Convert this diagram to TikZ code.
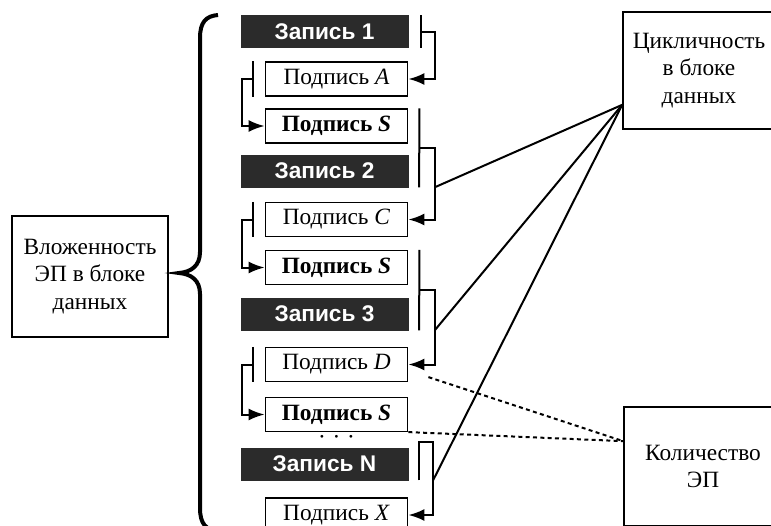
\documentclass[tikz,border=0pt]{standalone}
\usepackage{fontspec}
\setmainfont{Liberation Serif}
\setsansfont{Liberation Sans}
\usetikzlibrary{arrows.meta,calc}
\definecolor{recfill}{HTML}{2B2B2B}

\begin{document}
\begin{tikzpicture}[
        x=0.75pt,
        y=-0.75pt,
        >={Latex[length=12pt,width=9pt]},
        every node/.style={font=\fontsize{17.5}{20.5}\selectfont, align=center},
        rec/.style={draw=recfill, fill=recfill, text=white, font=\sffamily\bfseries\fontsize{17}{19}\selectfont, minimum width=125pt, minimum height=24pt, inner sep=0pt},
        sig/.style={draw, line width=0.9pt, minimum width=107pt, minimum height=25.5pt, inner sep=0pt},
        infobox/.style={draw, line width=1.3pt, inner sep=0pt},
        link/.style={line width=1.5pt},
        cnt/.style={line width=1.5pt, dash pattern=on 3pt off 2.5pt}
    ]
        \clip (0,0) rectangle (771,525);

        % column of records and signatures
        \node[rec] (z1) at (324.5,31.5) {Запись 1};
        \node[sig] (a) at (336.5,79) {Подпись \textit{A}};
        \node[sig] (s1) at (336.5,126) {\textbf{Подпись \textit{S}}};
        \node[rec] (z2) at (324.5,171) {Запись 2};
        \node[sig] (c) at (336.5,219.5) {Подпись \textit{C}};
        \node[sig] (s2) at (336.5,267.5) {\textbf{Подпись \textit{S}}};
        \node[rec] (z3) at (324.5,314) {Запись 3};
        \node[sig] (d) at (336.5,364.5) {Подпись \textit{D}};
        \node[sig] (s3) at (336.5,414.5) {\textbf{Подпись \textit{S}}};
        \node[inner sep=0pt] (dots) at (336.5,440) {·\hspace{5pt}·\hspace{5pt}·};
        \node[rec] (zn) at (324.5,464) {Запись N};
        \node[sig] (x) at (336.5,515) {Подпись \textit{X}};

        % left links
        \foreach \u/\v in {a/s1, c/s2, d/s3} {
            \draw[link] ([xshift=-9pt]\u.north west) -- ([xshift=-9pt]\u.south west);
            \draw[link, ->] ([xshift=-9pt]\u.west) -- ([xshift=-17pt]\u.west) |- (\v.west);
        }

        % right links
        \draw[link] ([xshift=9.75pt]z1.north east) -- ([xshift=9.75pt]z1.south east);
        \draw[link, ->] ([xshift=9.75pt]z1.east) -| ([xshift=20pt]a.east) -- (a.east);
        \foreach \s/\z/\t in {s1/z2/c, s2/z3/d} {
            \draw[link] ([xshift=8.25pt]\s.north east) -- ([xshift=8.25pt]\z.south east);
            \draw[link, ->] ($([xshift=8.25pt]\s.north east)!0.5!([xshift=8.25pt]\z.south east)$) -| ([xshift=20pt]\t.east) -- (\t.east);
        }
        \draw[link, ->] ([xshift=8pt]zn.south east) -- ([xshift=8pt,yshift=4.5pt]zn.north east) -| ([xshift=18.75pt]x.east) -- (x.east);

        % side boxes
        \node[infobox, minimum width=117pt, minimum height=90.75pt] (nest) at (90,276.5) {Вложенность\\ЭП в блоке\\данных};
        \node[infobox, minimum width=114pt, minimum height=87.75pt] (cyc) at (699,70.5) {Цикличность\\в блоке\\данных};
        \node[infobox, minimum width=118.5pt, minimum height=89.25pt] (kol) at (703,466.5) {Количество\\ЭП};

        % brace
        \draw[line width=3pt] (218,15) .. controls (206,16) and (200,22) .. (200,38) -- (200,252)
            .. controls (200,266) and (191,272) .. (179,273) .. controls (191,274) and (200,280) .. (200,294)
            -- (200,508) .. controls (200,524) and (206,530) .. (218,531);

        % lines to the side boxes
        \coordinate (hub) at ([yshift=18.75pt]cyc.south west);
        \foreach \p in {z2, z3} {
            \draw[link] ([xshift=20pt]\p.south east) -- (hub);
        }
        \draw[link] ([xshift=18.75pt]zn.south east) -- (hub);
        \coordinate (kolin) at ([yshift=-26.25pt]kol.north west);
        \draw[cnt] ([xshift=15pt,yshift=3.75pt]d.south east) -- (kolin);
        \draw[cnt] (s3.south east) -- (kolin);
    \end{tikzpicture}
\end{document}
